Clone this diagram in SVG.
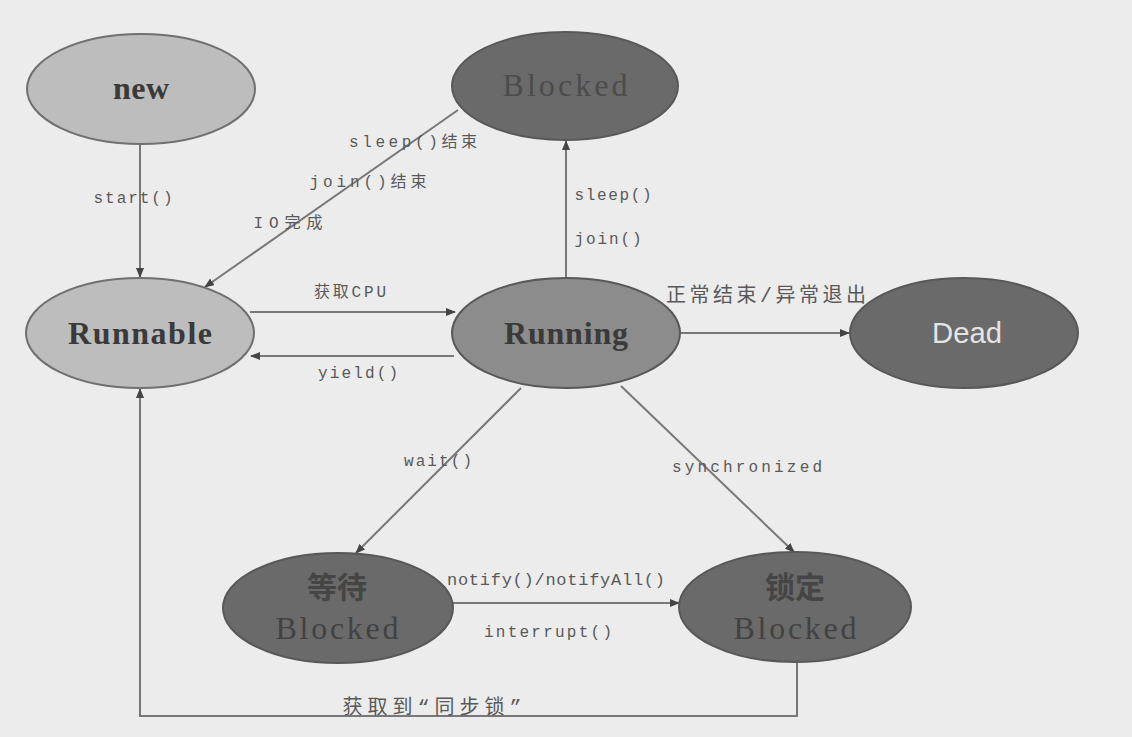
<svg xmlns="http://www.w3.org/2000/svg" width="1132" height="737" viewBox="0 0 1132 737">
<style>
.light{fill:#bdbdbd;stroke:#707070;stroke-width:2}
.dark{fill:#6a6a6a;stroke:#585858;stroke-width:2}
.nt{font-family:"Liberation Serif","Noto Sans CJK SC",serif;font-size:32px;font-weight:bold;fill:#3a3a3a;text-anchor:middle}
.nc{font-family:"Noto Sans CJK SC","Liberation Serif",serif;font-size:30px;font-weight:bold;fill:#454545;text-anchor:middle}
.lb{font-family:"Liberation Mono","Noto Sans CJK SC",monospace;font-size:16px;fill:#595959;text-anchor:middle}
.cn{fill:none;stroke:#787878;stroke-width:2}
</style>
<defs>
<marker id="ah" markerWidth="10" markerHeight="8" refX="9" refY="4" orient="auto" markerUnits="userSpaceOnUse">
<path d="M0,0 L10,4 L0,8 z" fill="#444"/>
</marker>
</defs>
<rect width="1132" height="737" fill="#ececec"/>
<g id="connectors">
<line class="cn" x1="140" y1="145" x2="140" y2="277" marker-end="url(#ah)"/>
<line class="cn" x1="458" y1="110" x2="205" y2="287" marker-end="url(#ah)"/>
<line class="cn" x1="250" y1="312" x2="455" y2="312" marker-end="url(#ah)"/>
<line class="cn" x1="454" y1="356" x2="251" y2="356" marker-end="url(#ah)"/>
<line class="cn" x1="566" y1="278" x2="566" y2="141" marker-end="url(#ah)"/>
<line class="cn" x1="680" y1="333" x2="849" y2="333" marker-end="url(#ah)"/>
<line class="cn" x1="521" y1="388" x2="356" y2="553" marker-end="url(#ah)"/>
<line class="cn" x1="621" y1="386" x2="794" y2="552" marker-end="url(#ah)"/>
<line class="cn" x1="453" y1="603" x2="679" y2="603" marker-end="url(#ah)"/>
<polyline class="cn" points="797,661 797,716 140,716 140,389" marker-end="url(#ah)"/>
<text class="lb" x="133" y="203" textLength="79" lengthAdjust="spacing">start()</text>
<text class="lb" x="413" y="147" textLength="128" lengthAdjust="spacing">sleep()结束</text>
<text class="lb" x="368" y="187" textLength="117" lengthAdjust="spacing">join()结束</text>
<text class="lb" x="288" y="228" textLength="69" lengthAdjust="spacing">IO完成</text>
<text class="lb" x="350" y="297" textLength="72" lengthAdjust="spacing">获取CPU</text>
<text class="lb" x="358" y="378" textLength="80" lengthAdjust="spacing">yield()</text>
<text class="lb" x="613" y="200" textLength="77" lengthAdjust="spacing">sleep()</text>
<text class="lb" x="608" y="244" textLength="67" lengthAdjust="spacing">join()</text>
<text class="lb" x="766" y="302" textLength="200" lengthAdjust="spacing" style="font-size:20px">正常结束/异常退出</text>
<text class="lb" x="438" y="466" textLength="68" lengthAdjust="spacing">wait()</text>
<text class="lb" x="747" y="472" textLength="150" lengthAdjust="spacing">synchronized</text>
<text class="lb" x="556" y="585" textLength="218" lengthAdjust="spacing" style="font-size:17px">notify()/notifyAll()</text>
<text class="lb" x="548" y="637" textLength="128" lengthAdjust="spacing">interrupt()</text>
<text class="lb" x="432" y="714" textLength="179" lengthAdjust="spacing" style="font-size:20px">获取到“同步锁”</text>
</g>
<g id="new"><ellipse class="light" cx="141" cy="89" rx="114" ry="55"/><text class="nt" x="141" y="99" textLength="56" lengthAdjust="spacing">new</text></g>
<g id="blocked"><ellipse class="dark" cx="565" cy="86" rx="113" ry="54"/><text class="nt" x="565" y="96" textLength="125" lengthAdjust="spacing" style="fill:#4c4c4c;font-weight:normal">Blocked</text></g>
<g id="runnable"><ellipse class="light" cx="140" cy="333" rx="114" ry="55"/><text class="nt" x="140" y="344" textLength="144" lengthAdjust="spacing">Runnable</text></g>
<g id="running"><ellipse class="dark" cx="566" cy="333" rx="114" ry="55" style="fill:#8c8c8c"/><text class="nt" x="566" y="344" textLength="124" lengthAdjust="spacing">Running</text></g>
<g id="dead"><ellipse class="dark" cx="964" cy="333" rx="114" ry="55"/><text x="967" y="343" textLength="70" lengthAdjust="spacingAndGlyphs" style="font-family:'Liberation Sans Narrow','Liberation Sans',sans-serif;font-size:29px;fill:#e4e4e4;text-anchor:middle">Dead</text></g>
<g id="waiting"><ellipse class="dark" cx="338" cy="608" rx="115" ry="55"/><text class="nc" x="337" y="598">等待</text><text class="nt" x="337" y="639" textLength="123" lengthAdjust="spacing" style="fill:#424242;font-weight:normal">Blocked</text></g>
<g id="locked"><ellipse class="dark" cx="795" cy="607" rx="116" ry="55"/><text class="nc" x="795" y="598">锁定</text><text class="nt" x="795" y="639" textLength="123" lengthAdjust="spacing" style="fill:#424242;font-weight:normal">Blocked</text></g>
</svg>
